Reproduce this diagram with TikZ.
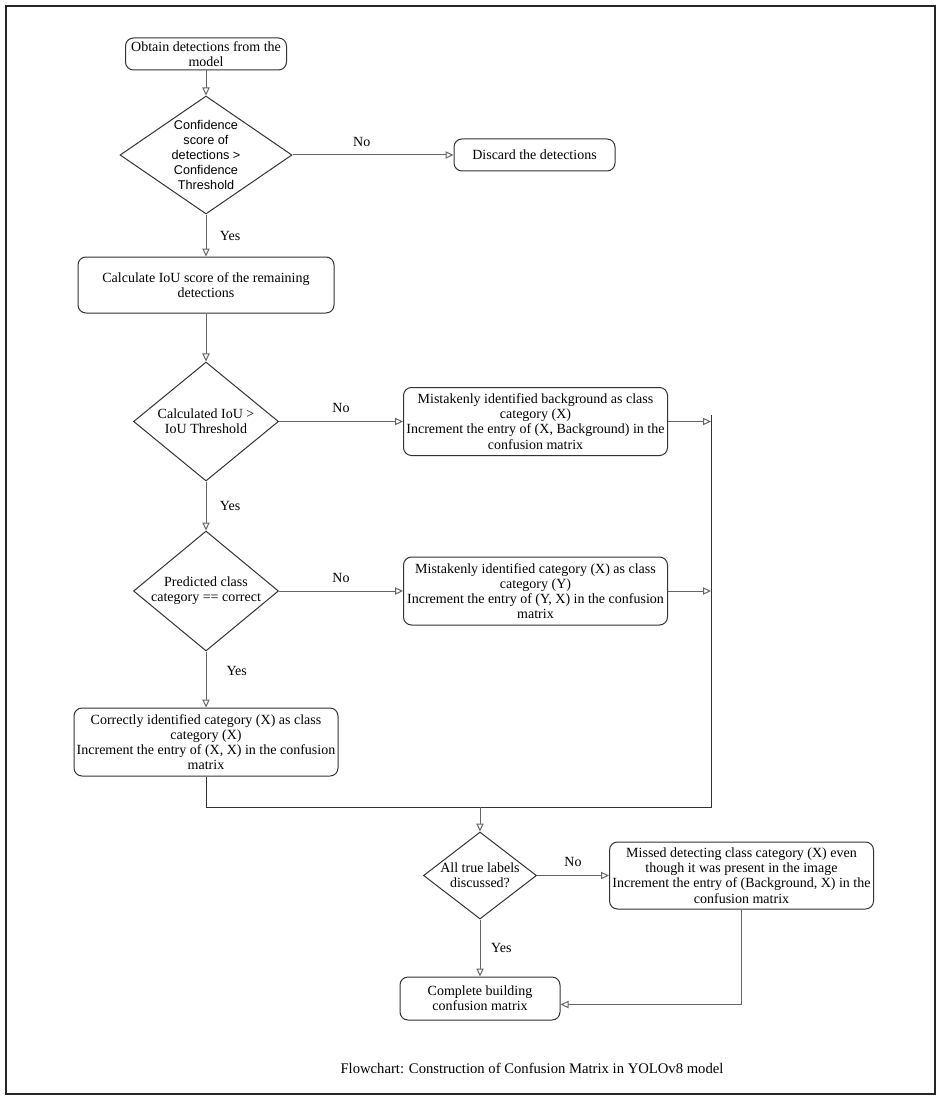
\documentclass[tikz,border=0pt]{standalone}
\usepackage{fontspec}
\setmainfont{Liberation Serif}
\newfontfamily\diasans{Liberation Sans}
\usetikzlibrary{positioning,shapes.geometric,arrows.meta}

\tikzset{
  procbox/.style={draw=black!80, rounded corners=6pt, align=center, inner sep=0.5pt,
    font=\fontsize{10.5}{11.4}\selectfont},
  decision/.style={draw=black!80, shape=diamond, align=center, inner sep=-5pt,
    font=\fontsize{10.5}{11.4}\selectfont},
  flow/.style={draw=black!60, ->},
  lbl/.style={font=\fontsize{10.5}{11.4}\selectfont, inner sep=1pt}
}

\begin{document}
\begin{tikzpicture}[x=0.75pt, y=-0.75pt, line width=0.75pt, >={Triangle[open,length=6pt,width=5.5pt]}]
    \useasboundingbox (0,0) rectangle (942,1102);
    \draw[black!85, line width=0.9pt] (6,6) rectangle (935,1094);

    \node[procbox, minimum width=120.75pt, minimum height=24pt] (start) at (206,54) {Obtain detections from the\\model};
    \node[decision, font=\diasans\fontsize{9.5}{11.25}\selectfont, minimum width=129pt, minimum height=88.5pt, below=18.75pt of start] (conf) {Confidence\\score of\\detections >\\Confidence\\Threshold};
    \node[procbox, minimum width=120.75pt, minimum height=24pt, right=120.75pt of conf] (discard) {Discard the detections};
    \node[procbox, minimum width=192pt, minimum height=42pt, below=31.5pt of conf] (iou) {Calculate IoU score of the remaining\\detections};

    \node[decision, minimum width=108.75pt, minimum height=89.25pt, below=36pt of iou] (iouthr) {Calculated IoU >\\IoU Threshold};
    \node[procbox, minimum width=198pt, minimum height=51pt, right=93pt of iouthr] (falsepos) {Mistakenly identified background as class\\category (X)\\Increment the entry of (X, Background) in the\\confusion matrix};
    \node[decision, minimum width=108.75pt, minimum height=90pt, below=36.75pt of iouthr] (classok) {Predicted class\\category == correct};
    \node[procbox, minimum width=198pt, minimum height=51pt, right=93pt of classok] (wrongcls) {Mistakenly identified category (X) as class\\category (Y)\\Increment the entry of (Y, X) in the confusion\\matrix};
    \node[procbox, minimum width=198pt, minimum height=51pt, below=42pt of classok] (truepos) {Correctly identified category (X) as class\\category (X)\\Increment the entry of (X, X) in the confusion\\matrix};

    % collecting line on the right
    \coordinate (bus) at (711,807);
    \coordinate (busTop) at (711,415);
    \coordinate (merge) at (480,807);

    \node[decision, minimum width=84.75pt, minimum height=65.25pt] (alldone) at (480,875.5) {All true labels\\discussed?};
    \node[procbox, minimum width=198pt, minimum height=50.25pt, right=54pt of alldone] (missed) {Missed detecting class category (X) even\\though it was present in the image\\Increment the entry of (Background, X) in the\\confusion matrix};
    \node[procbox, minimum width=120pt, minimum height=32.25pt, below=42.75pt of alldone] (finish) {Complete building\\confusion matrix};

    \node[lbl, font=\fontsize{11}{12}\selectfont] (caption) at (532,1068) {Flowchart: Construction of Confusion Matrix in YOLOv8 model};

    \draw[flow] (start) -- (conf);
    \draw[flow] (conf) -- node[lbl, pos=0.43, above=5pt] {No} (discard);
    \draw[flow] (conf) -- node[lbl, right=9pt] {Yes} (iou);
    \draw[flow] (iou) -- (iouthr);
    \draw[flow] (iouthr) -- node[lbl, above=5pt] {No} (falsepos);
    \draw[flow] (iouthr) -- node[lbl, right=9pt] {Yes} (classok);
    \draw[flow] (classok) -- node[lbl, above=5pt] {No} (wrongcls);
    \draw[flow] (classok) -- node[lbl, pos=0.35, right=14pt] {Yes} (truepos);

    \draw[flow] (falsepos.east) -- (falsepos.east -| bus);
    \draw[flow] (wrongcls.east) -- (wrongcls.east -| bus);
    \draw[draw=black!80] (truepos.south) |- (bus) -- (busTop);
    \draw[flow] (merge) -- (alldone);

    \draw[flow] (alldone.east) -- node[lbl, above=5pt] {No} (alldone.east -| missed.west);
    \draw[flow] (alldone) -- node[lbl, right=7pt] {Yes} (finish);
    \draw[flow] (missed.south) |- ([yshift=-4.5pt]finish.east);
\end{tikzpicture}
\end{document}
